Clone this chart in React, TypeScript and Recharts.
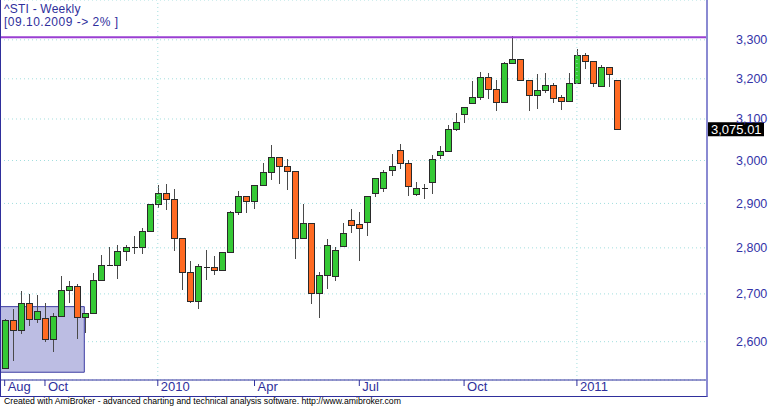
import React from 'react';
import { ComposedChart, Bar, XAxis, YAxis, CartesianGrid, ReferenceLine, ReferenceArea } from 'recharts';

// weekly ^STI candles, Aug 2009 -> Feb 2011
const opens = [
  2545, 2643, 2624, 2680, 2647, 2649, 2605, 2653, 2708, 2715,
  2651, 2659, 2728, 2761, 2762, 2792, 2801, 2801, 2837, 2897,
  2923, 2908, 2820, 2746, 2684, 2758.6, 2757, 2751, 2789, 2880,
  2915, 2905, 2942, 2972, 3008, 2987, 2975, 2820, 2855, 2701,
  2740, 2737, 2803, 2862, 2853, 2856, 2923, 2935, 2977, 3024,
  2993, 2921, 2933, 2948, 3011, 3022, 3075, 3111, 3139, 3152,
  3203, 3173, 3141, 3238, 3250, 3196, 3157, 3170, 3184, 3152,
  3143, 3189, 3260, 3245, 3180, 3229, 3196,
];
const highs = [
  2646, 2667, 2706, 2699, 2697, 2680, 2659, 2738, 2728, 2722,
  2659, 2744, 2784, 2802, 2806, 2806, 2826, 2844, 2897, 2942,
  2945, 2934, 2820, 2770, 2765, 2795, 2781, 2789, 2883, 2929,
  2915, 2943, 2995, 3036, 3008, 3004, 2975, 2899, 2855, 2748,
  2819, 2803, 2856, 2887, 2881, 2916, 2957, 2978, 3015, 3040,
  3001, 2950, 2946, 3012, 3035, 3085, 3114, 3129, 3194, 3217,
  3215, 3197, 3242, 3310, 3250, 3196, 3213, 3215, 3189, 3159,
  3215, 3276, 3267, 3245, 3235, 3229, 3196,
];
const lows = [
  2545, 2561, 2616, 2633, 2639, 2600, 2578, 2653, 2680, 2606,
  2618, 2659, 2728, 2760, 2731, 2770, 2786, 2787, 2837, 2889,
  2885, 2794, 2708, 2681, 2669, 2730, 2740, 2751, 2789, 2873,
  2879, 2888, 2942, 2954, 2946, 2932, 2776, 2820, 2679, 2649,
  2711, 2728, 2803, 2832, 2771, 2827, 2915, 2926, 2964, 2979,
  2918, 2918, 2910, 2922, 3003, 3022, 3070, 3090, 3139, 3148,
  3149, 3120, 3141, 3238, 3194, 3120, 3125, 3165, 3139, 3122,
  3143, 3189, 3224, 3180, 3180, 3179, 3075,
];
const closes = [
  2643, 2623, 2680, 2647, 2662, 2605, 2653, 2708, 2715, 2651,
  2659, 2728, 2762, 2762, 2792, 2800, 2801, 2837, 2897, 2923,
  2908, 2820, 2746, 2684, 2760, 2758.6, 2751, 2789, 2880, 2915,
  2905, 2942, 2972, 3008, 2987, 2975, 2820, 2855, 2701, 2740,
  2806, 2795, 2832, 2851, 2843, 2916, 2957, 2972, 2987, 2993,
  2940, 2935, 2936, 3003, 3022, 3075, 3091, 3129, 3152, 3203,
  3173, 3141, 3238, 3250, 3195, 3157, 3170, 3184, 3151, 3143,
  3189, 3260, 3245, 3188, 3229, 3210, 3075.01,
];

const tickIndex = [0, 5, 19, 31, 44, 57, 71];
const tickLabels = ['Aug', 'Oct', '2010', 'Apr', 'Jul', 'Oct', '2011'];
const yearIndex = [19, 71];
const priceTicks = [2600, 2700, 2800, 2900, 3000, 3100, 3200, 3300];
const trendLevel = 3307;
const selectBox = { x1: -0.58, x2: 9.88, y1: 2538, y2: 2673 };

const data = opens.map((o, i) => ({
  i,
  open: o,
  high: highs[i],
  low: lows[i],
  close: closes[i],
  range: [lows[i], highs[i]],
}));

const UP = '#35c935';
const DOWN = '#ff6a22';
const NAVY = '#2f2f9c';
const GRID = '#a2dede';
const FONT = '"Liberation Sans", Arial, sans-serif';

const Candle = (props: any) => {
  const { x, y, width, height, payload } = props;
  const { open, close, high, low } = payload;
  const top = Math.min(y, y + height);
  const h = Math.abs(height);
  const cx = Math.round(x + width / 2) + 0.5;
  const span = Math.log(high) - Math.log(low);
  const toY = (v: number) => (span > 0 ? top + (h * (Math.log(high) - Math.log(v))) / span : top);
  const yo = toY(open);
  const yc = toY(close);
  const bTop = Math.min(yo, yc);
  const bBot = Math.max(yo, yc);
  const up = close >= open;
  return (
    <g shapeRendering="crispEdges">
      <line x1={cx} x2={cx} y1={top} y2={top + h} stroke="#4a4a4a" strokeWidth={1} />
      {bBot - bTop < 1.5 ? (
        <line x1={cx - 3} x2={cx + 3} y1={Math.round(bTop) + 0.5} y2={Math.round(bTop) + 0.5} stroke="#222" strokeWidth={1.5} />
      ) : (
        <rect x={cx - 3} y={bTop} width={6} height={bBot - bTop} fill={up ? UP : DOWN} stroke="#2a2a2a" strokeWidth={1} />
      )}
    </g>
  );
};

const DateTick = (props: any) => {
  const { x, y, payload } = props;
  const idx = tickIndex.indexOf(payload.value);
  return (
    <g>
      <line x1={x} x2={x} y1={y} y2={y + 6} stroke={NAVY} strokeWidth={1} />
      <text x={x + 3} y={y + 11} fill={NAVY} fontSize={13} fontFamily={FONT}>
        {tickLabels[idx]}
      </text>
    </g>
  );
};

const PriceTag = (props: any) => {
  const vb = props.viewBox || {};
  const left = vb.x + vb.width + 1;
  return (
    <g>
      <rect x={left} y={vb.y - 7} width={56} height={14} fill="#000" />
      <text x={left + 3} y={vb.y + 5} fill="#fff" fontSize={13} fontFamily={FONT}>
        {closes[closes.length - 1].toLocaleString('en-US', { minimumFractionDigits: 2 })}
      </text>
    </g>
  );
};

export default function App() {
  return (
    <div style={{ position: 'fixed', left: 0, top: 0, width: 770, height: 407, background: '#fff', fontFamily: FONT }}>
      <ComposedChart width={770} height={407} data={data} margin={{ top: 0, right: 0, bottom: 11, left: 0 }}>
        <CartesianGrid vertical={false} stroke={GRID} strokeDasharray="1 3" />
        {yearIndex.map((yi) => (
          <ReferenceLine key={yi} x={yi} stroke={GRID} strokeDasharray="1 3" />
        ))}
        <ReferenceArea
          x1={selectBox.x1}
          x2={selectBox.x2}
          y1={selectBox.y1}
          y2={selectBox.y2}
          fill="#bcbde3"
          fillOpacity={1}
          stroke="#3d3da3"
          strokeWidth={1}
          ifOverflow="visible"
        />
        <XAxis
          type="number"
          dataKey="i"
          domain={[-0.58, 87.14]}
          allowDataOverflow
          ticks={tickIndex}
          interval={0}
          height={16}
          tickSize={0}
          tickMargin={0}
          tickLine={false}
          axisLine={{ stroke: NAVY }}
          tick={<DateTick />}
        />
        <YAxis
          orientation="right"
          scale="log"
          domain={[2522.5, 3405.5]}
          allowDataOverflow
          ticks={priceTicks}
          width={63}
          tickSize={0}
          tickMargin={29}
          tickLine={false}
          axisLine={false}
          tickFormatter={(v: number) => v.toLocaleString('en-US')}
          tick={{ fill: '#3434a8', fontSize: 12.5, fontFamily: FONT }}
        />
        <ReferenceLine y={trendLevel} stroke="#9a3fd2" strokeWidth={2} />
        <Bar dataKey="range" barSize={6} shape={<Candle />} isAnimationActive={false} />
        <ReferenceLine y={closes[closes.length - 1]} stroke="none" label={(p: any) => <PriceTag {...p} />} />
      </ComposedChart>
      <div
        style={{
          position: 'absolute', left: 0, top: 0, width: 708, height: 397, boxSizing: 'border-box',
          borderLeft: `1px solid ${NAVY}`, borderRight: '2px solid #8a8ad2', borderBottom: `1px solid ${NAVY}`,
          pointerEvents: 'none',
        }}
      />
      <div style={{ position: 'absolute', left: 4, top: 1.5, fontSize: 12, lineHeight: '14px', color: NAVY, letterSpacing: 0.2 }}>^STI - Weekly</div>
      <div style={{ position: 'absolute', left: 4, top: 14.8, fontSize: 12, lineHeight: '14px', color: NAVY, letterSpacing: 0.5 }}>[09.10.2009 -&gt; 2% ]</div>
      <div style={{ position: 'absolute', left: 4, top: 396, fontSize: 8.7, lineHeight: '11px', color: '#000', whiteSpace: 'nowrap' }}>
        Created with AmiBroker - advanced charting and technical analysis software. http://www.amibroker.com
      </div>
    </div>
  );
}
